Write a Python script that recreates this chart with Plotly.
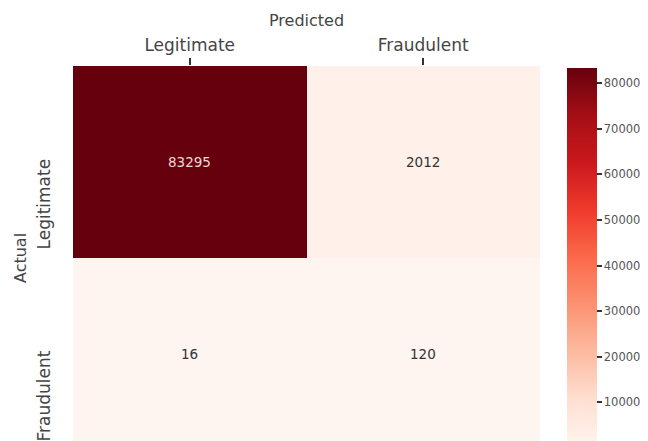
import plotly.graph_objects as go
import plotly.express as px

x_labels = ["Legitimate", "Fraudulent"]
y_labels = ["Legitimate", "Fraudulent"]
values = [[83295, 2012],
          [16, 120]]
cbar_ticks = [10000, 20000, 30000, 40000, 50000, 60000, 70000, 80000]

FONT = "DejaVu Sans"
TXT = "#444444"

# page body has an 8px margin, so the figure is laid out 8px smaller
W, H = 640, 433
L, R, T, B = 65, 108, 58, 0
plot_w = W - L - R
plot_h = H - T - B
row_px = 192.0
y_bottom = -0.5 + plot_h / row_px

vmax = max(max(r) for r in values)
vmin = min(min(r) for r in values)
cb_len = (vmax - vmin) / 10000 * 45.6

fig = go.Figure()
fig.add_trace(go.Heatmap(
    z=values,
    x=x_labels,
    y=y_labels,
    colorscale=px.colors.sequential.Reds,
    zmin=vmin, zmax=vmax,
    showscale=True,
    colorbar=dict(
        thickness=30,
        lenmode="pixels", len=cb_len,
        x=(559 - L) / plot_w, xanchor="left", xpad=0,
        y=1.0 - 2 / plot_h, yanchor="top", ypad=0,
        outlinewidth=0,
        tickvals=cbar_ticks, tickformat="d",
        ticks="outside", ticklen=5, tickwidth=1.5, tickcolor="#333333",
        tickfont=dict(family=FONT, size=11.5, color="#555555"),
    ),
))

# cell annotations
for i, yl in enumerate(y_labels):
    for j, xl in enumerate(x_labels):
        v = values[i][j]
        col = "#f0d8d8" if v > vmax / 2 else "#333333"
        fig.add_annotation(x=xl, y=yl, text=str(v), showarrow=False,
                           font=dict(family=FONT, size=13.5, color=col))

# y tick labels (rotated, ending at tick position)
for yl in y_labels:
    fig.add_annotation(x=0, xref="paper", xanchor="right", xshift=-18,
                       y=yl, yanchor="top", yshift=5,
                       text=yl, textangle=-90, showarrow=False,
                       font=dict(family=FONT, size=17, color=TXT))

fig.add_annotation(x=(12 - L) / plot_w, xref="paper", xanchor="center",
                   y=0.5, yref="paper",
                   yshift=-(2 * row_px - plot_h) / 2,
                   text="Actual", textangle=-90, showarrow=False,
                   font=dict(family=FONT, size=16, color=TXT))

fig.update_layout(
    width=W, height=H,
    margin=dict(l=L, r=R, t=T, b=B, pad=0, autoexpand=False),
    paper_bgcolor="white", plot_bgcolor="white",
    font=dict(family=FONT, color=TXT),
    xaxis=dict(side="top", ticks="outside", ticklen=7, tickwidth=1.5,
               tickcolor="#333333", showgrid=False, zeroline=False,
               showline=False, range=[-0.5, 1.5], automargin=False,
               tickfont=dict(family=FONT, size=17, color=TXT),
               title=dict(text="Predicted", standoff=4,
                          font=dict(family=FONT, size=16, color=TXT))),
    yaxis=dict(range=[y_bottom, -0.5], showticklabels=False, ticks="",
               showgrid=False, zeroline=False, showline=False, automargin=False),
)

fig.write_html("out.html")
